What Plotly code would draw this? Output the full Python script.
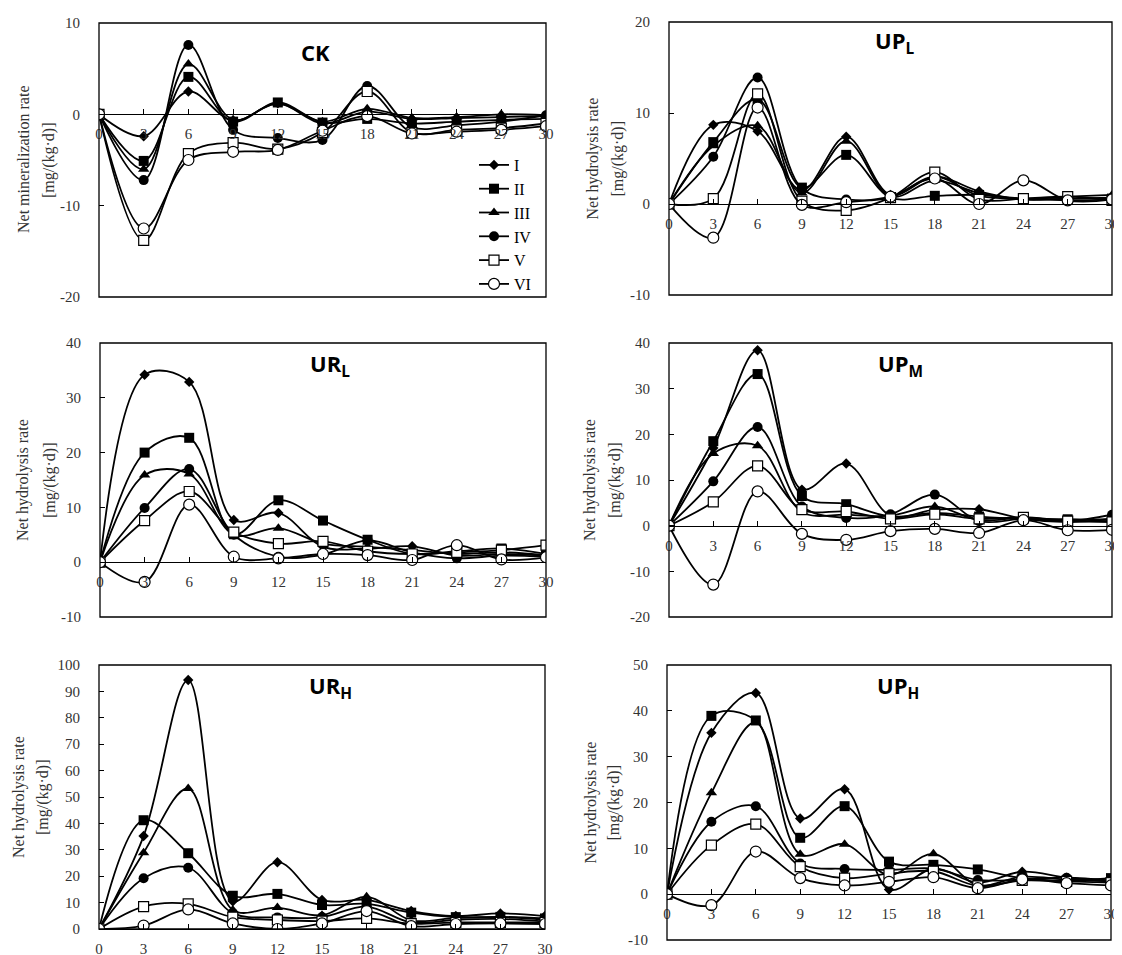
import plotly.graph_objects as go

# ---------------- data ----------------
days = [0, 3, 6, 9, 12, 15, 18, 21, 24, 27, 30]
series_names = ["I", "II", "III", "IV", "V", "VI"]
x_ticks = [0, 3, 6, 9, 12, 15, 18, 21, 24, 27, 30]

# CK
CK_I = [0, -2.4, 2.5, -0.7, 1.2, -1.0, 0.3, -0.5, -0.4, -0.3, -0.2]
CK_II = [0, -5.1, 4.1, -0.8, 1.3, -0.9, -0.5, -1.0, -0.8, -0.6, -0.5]
CK_III = [0, -6.0, 5.5, -0.6, 1.2, -0.8, 0.6, -0.4, -0.3, 0.0, -0.1]
CK_IV = [0, -7.2, 7.6, -1.7, -2.6, -2.8, 3.1, -1.4, -1.2, -0.8, -0.1]
CK_V = [0, -13.8, -4.3, -3.1, -3.8, -2.0, 2.5, -2.0, -1.7, -1.5, -1.0]
CK_VI = [0, -12.5, -5.0, -4.1, -3.9, -1.8, -0.2, -2.1, -1.9, -1.7, -1.3]

# UP_L
UPL_I = [0, 8.7, 8.0, 1.5, 7.4, 1.0, 3.0, 1.4, 0.5, 0.6, 0.7]
UPL_II = [0, 6.8, 11.5, 1.8, 5.4, 0.7, 0.9, 1.0, 0.5, 0.6, 0.6]
UPL_III = [0, 6.4, 8.6, 1.2, 6.9, 0.8, 2.6, 1.2, 0.6, 0.8, 1.0]
UPL_IV = [0, 5.2, 13.9, 1.7, 0.5, 0.7, 3.0, 0.9, 0.6, 0.4, 0.5]
UPL_V = [0, 0.6, 12.1, 0.3, -0.7, 0.7, 3.5, 0.5, 0.6, 0.8, 0.4]
UPL_VI = [0, -3.7, 10.6, -0.1, 0.2, 0.8, 2.8, 0.0, 2.6, 0.4, 0.5]

# UR_L
URL_I = [0, 34.2, 32.9, 7.7, 9.0, 2.8, 2.5, 2.9, 1.2, 1.5, 1.2]
URL_II = [0, 20.0, 22.7, 5.1, 11.3, 7.6, 4.1, 1.5, 2.0, 2.5, 1.5]
URL_III = [0, 15.9, 16.1, 5.0, 6.2, 3.4, 2.8, 2.2, 1.5, 1.8, 1.3]
URL_IV = [0, 9.9, 17.0, 5.0, 1.0, 1.4, 4.0, 1.8, 0.7, 1.2, 1.0]
URL_V = [0, 7.6, 12.9, 5.5, 3.4, 3.8, 2.0, 1.5, 1.8, 2.2, 3.1]
URL_VI = [0, -3.6, 10.5, 1.0, 0.7, 1.5, 1.3, 0.4, 3.1, 0.5, 0.9]

# UP_M
UPM_I = [0, 17.0, 38.4, 7.9, 13.6, 2.2, 3.5, 3.6, 1.5, 0.8, 1.5]
UPM_II = [0, 18.5, 33.2, 6.5, 4.7, 2.0, 2.8, 2.0, 1.5, 1.4, 1.2]
UPM_III = [0, 15.8, 17.5, 3.0, 2.4, 2.2, 4.2, 1.2, 1.8, 1.2, 1.5]
UPM_IV = [0, 9.7, 21.6, 4.2, 1.7, 2.5, 6.8, 1.0, 1.5, 1.0, 2.4]
UPM_V = [0, 5.2, 13.1, 3.5, 3.1, 1.5, 2.5, 1.5, 1.8, 1.0, 0.8]
UPM_VI = [0, -12.9, 7.5, -1.8, -3.1, -1.2, -0.7, -1.6, 1.2, -1.0, -0.9]

# UR_H
URH_I = [0, 35.2, 94.3, 10.5, 25.3, 11.0, 11.0, 6.8, 4.9, 5.9, 4.9]
URH_II = [0, 41.2, 28.7, 12.6, 13.3, 9.1, 9.5, 6.2, 4.5, 4.6, 4.0]
URH_III = [0, 28.9, 53.2, 7.2, 8.1, 5.2, 12.2, 3.3, 4.2, 4.5, 3.5]
URH_IV = [0, 19.2, 23.2, 6.0, 4.4, 4.5, 8.5, 2.5, 3.5, 3.8, 2.8]
URH_V = [0, 8.5, 9.5, 4.5, 3.4, 3.0, 4.0, 2.0, 2.5, 2.5, 2.5]
URH_VI = [0, 1.3, 7.4, 2.1, 0.0, 2.1, 6.8, 1.1, 1.9, 2.1, 1.9]

# UP_H
UPH_I = [0, 35.2, 43.9, 16.5, 22.9, 1.0, 5.6, 2.5, 4.9, 3.6, 2.8]
UPH_II = [0, 38.9, 37.9, 12.3, 19.2, 7.1, 6.4, 5.4, 3.5, 3.0, 3.5]
UPH_III = [0, 22.1, 37.5, 8.7, 10.9, 4.2, 8.8, 2.0, 3.8, 3.2, 2.8]
UPH_IV = [0, 15.8, 19.2, 6.7, 5.5, 5.3, 5.6, 3.1, 3.2, 3.6, 3.0]
UPH_V = [0, 10.7, 15.3, 6.0, 3.5, 4.5, 5.0, 1.8, 3.0, 2.8, 2.5]
UPH_VI = [0, -2.4, 9.3, 3.5, 1.9, 2.7, 3.7, 1.3, 3.2, 2.4, 1.9]

panel_titles = ["CK", "UP<sub>L</sub>", "UR<sub>L</sub>", "UP<sub>M</sub>", "UR<sub>H</sub>", "UP<sub>H</sub>"]
y_title_line1 = ["Net mineralization rate"] + ["Net hydrolysis rate"] * 5
y_title_line2 = ["[mg/(kg·d)]"] * 6
y_ranges = [(-20, 10), (-10, 20), (-10, 40), (-20, 40), (0, 100), (-10, 50)]

panel_data = [
    [CK_I, CK_II, CK_III, CK_IV, CK_V, CK_VI],
    [UPL_I, UPL_II, UPL_III, UPL_IV, UPL_V, UPL_VI],
    [URL_I, URL_II, URL_III, URL_IV, URL_V, URL_VI],
    [UPM_I, UPM_II, UPM_III, UPM_IV, UPM_V, UPM_VI],
    [URH_I, URH_II, URH_III, URH_IV, URH_V, URH_VI],
    [UPH_I, UPH_II, UPH_III, UPH_IV, UPH_V, UPH_VI],
]

# ---------------- layout / styling ----------------
W, H = 1122, 955
OFF = 8  # page body margin compensation
# plot boxes in page px: (left, top, right, bottom)
boxes = [
    (99, 23, 546, 297),
    (669, 22, 1112, 295),
    (100, 343, 546, 617),
    (669, 343, 1112, 617),
    (99, 665, 545, 929),
    (667, 665, 1111, 940),
]
title_pos = [(0.485, 0.894), (0.51, 0.925), (0.516, 0.92), (0.523, 0.92), (0.52, 0.917), (0.52, 0.92)]
ytitle_shift1 = [-76, -77, -77, -79, -80, -77]
ytitle_shift2 = [-50, -52, -50, -54, -56, -54]

marker_styles = {
    "I": dict(symbol="diamond", size=8, color="black"),
    "II": dict(symbol="square", size=10, color="black"),
    "III": dict(symbol="triangle-up", size=10, color="black"),
    "IV": dict(symbol="circle", size=10, color="black"),
    "V": dict(symbol="square", size=10, color="white", line=dict(color="black", width=1.2)),
    "VI": dict(symbol="circle", size=11, color="white", line=dict(color="black", width=1.2)),
}

SERIF = "Liberation Serif"
TICK_COLOR = "#333333"


def tick_text(v):
    return str(v).replace("\u2212", "-")


fig = go.Figure()
annotations = []
shapes = []

for i, (vals_list, box, yr) in enumerate(zip(panel_data, boxes, y_ranges)):
    n = i + 1
    xa = "x" if n == 1 else f"x{n}"
    ya = "y" if n == 1 else f"y{n}"
    for name, vals in zip(series_names, vals_list):
        fig.add_trace(go.Scatter(
            x=days, y=vals, name=name, mode="lines+markers",
            line=dict(color="black", width=1.8, shape="spline", smoothing=1.0),
            marker=marker_styles[name],
            xaxis=xa, yaxis=ya,
            legendgroup=name, showlegend=(i == 0),
        ))
    l, t, r, b = [v - OFF for v in box]
    xdom = [l / W, r / W]
    ydom = [1 - b / H, 1 - t / H]
    zero_pos = ydom[0] + (0 - yr[0]) / (yr[1] - yr[0]) * (ydom[1] - ydom[0])
    yt = list(range(yr[0], yr[1] + 1, 10))
    xkey = "xaxis" if n == 1 else f"xaxis{n}"
    ykey = "yaxis" if n == 1 else f"yaxis{n}"
    fig.update_layout(**{
        xkey: dict(
            domain=xdom, range=[0, 30], tickvals=x_ticks, ticktext=[str(v) for v in x_ticks],
            anchor="free", position=zero_pos, automargin=False,
            showline=True, linecolor="black", linewidth=1,
            ticks="inside", ticklen=5, tickcolor="black",
            showgrid=False, zeroline=False, ticklabelstandoff=6,
            tickfont=dict(family=SERIF, size=15, color=TICK_COLOR),
        ),
        ykey: dict(
            domain=ydom, range=list(yr), tickvals=yt, ticktext=[tick_text(v) for v in yt],
            anchor=xa, automargin=False,
            showline=False, showgrid=False, zeroline=False,
            ticks="inside", ticklen=5, tickcolor="black", ticklabelstandoff=18,
            tickfont=dict(family=SERIF, size=15, color=TICK_COLOR),
        ),
    })
    shapes.append(dict(type="rect", xref=f"{xa} domain", yref=f"{ya} domain",
                       x0=0, x1=1, y0=0, y1=1, line=dict(color="black", width=1.3),
                       fillcolor="rgba(0,0,0,0)", layer="above"))
    annotations.append(dict(text=f"<b>{panel_titles[i]}</b>", xref=f"{xa} domain", yref=f"{ya} domain",
                            x=title_pos[i][0], y=title_pos[i][1], xanchor="center", yanchor="middle",
                            showarrow=False, font=dict(family="Open Sans", size=22, color="black")))
    for txt, sh in ((y_title_line1[i], ytitle_shift1[i]), (y_title_line2[i], ytitle_shift2[i])):
        annotations.append(dict(text=txt, xref=f"{xa} domain", yref=f"{ya} domain",
                                x=0, y=0.5, xshift=sh, textangle=-90,
                                xanchor="center", yanchor="middle", showarrow=False,
                                font=dict(family=SERIF, size=16, color=TICK_COLOR)))

fig.update_layout(
    width=W, height=H,
    margin=dict(l=0, r=0, t=0, b=0, autoexpand=False),
    paper_bgcolor="white", plot_bgcolor="white",
    annotations=annotations, shapes=shapes,
    legend=dict(x=(474 - OFF) / W, y=1 - (148 - OFF) / H, xanchor="left", yanchor="top",
                bgcolor="rgba(0,0,0,0)", font=dict(family=SERIF, size=16, color="black"),
                tracegroupgap=0, itemwidth=30),
    showlegend=True,
)

fig.write_html("out.html")
